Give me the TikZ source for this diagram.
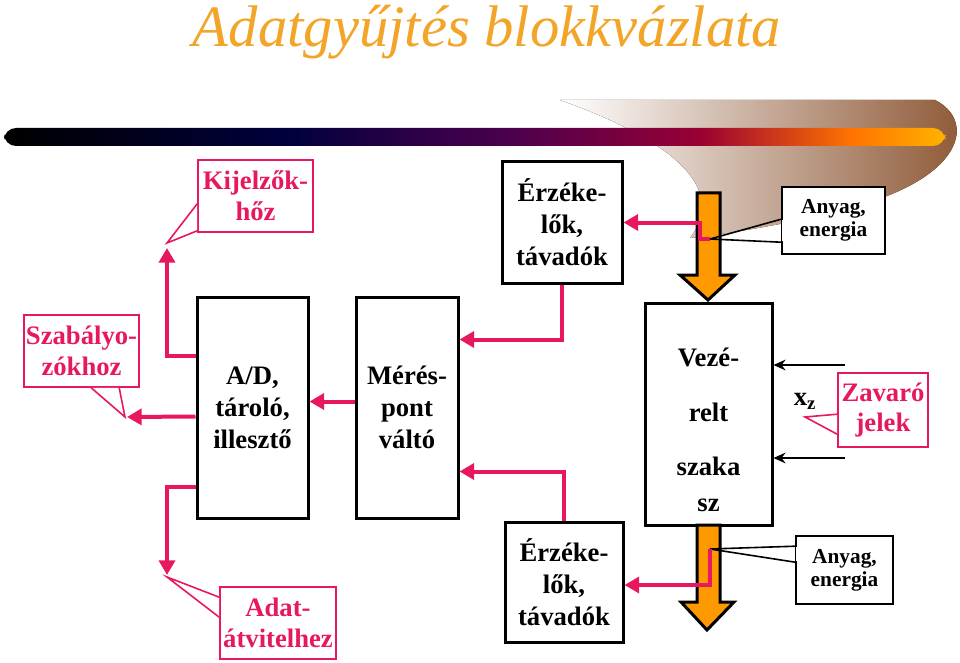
\documentclass[tikz,border=0pt]{standalone}
\usepackage{fontspec}
\setmainfont{Liberation Serif}
\usetikzlibrary{calc,arrows.meta}
\definecolor{pinkred}{RGB}{232,24,96}
\definecolor{flow}{RGB}{255,153,0}
\definecolor{titleor}{RGB}{242,165,40}
\definecolor{swoosh}{RGB}{140,85,50}
\pgfdeclarehorizontalshading{barshade}{100bp}{color(0bp)=(black); color(25bp)=(black); color(40bp)=(black!60!blue!60!black); color(52bp)=(violet!60!black); color(62bp)=(purple!80!black); color(70bp)=(orange!90!red); color(75bp)=(orange!60!yellow); color(100bp)=(orange!60!yellow)}
\tikzset{
  blk/.style={draw,line width=2.25pt,fill=white,align=center,inner sep=0pt,font=\fontsize{20}{24}\selectfont\bfseries},
  pcall/.style={draw=pinkred,line width=1.2pt,fill=white,align=center,inner sep=0pt,text=pinkred,font=\fontsize{20}{23}\selectfont\bfseries},
  bcall/.style={draw,line width=1.2pt,fill=white,align=center,inner sep=0pt,font=\fontsize{16}{17}\selectfont\bfseries},
  sig/.style={draw=pinkred,line width=3pt,-{Triangle[length=11pt,width=12pt]}},
  dist/.style={draw,line width=1.2pt,-{Stealth[length=9pt,width=8pt]}},
  mflow/.style={fill=flow,draw,line width=2.25pt,line join=miter}
}
\begin{document}
\begin{tikzpicture}[x=0.75pt,y=-0.75pt]
\useasboundingbox (0,0) rectangle (960,663);
% title and bar
\fill[left color=white,right color=swoosh] (560,100) -- (935,100) .. controls (975,120) and (965,175) .. (860,205) .. controls (800,222) and (740,232) .. (690,238) .. controls (720,200) and (700,150) .. (560,100);
\node[text=titleor,font=\fontsize{44}{50}\selectfont\itshape] (title) at (487,32) {Adatgyűjtés blokkvázlata};
\shade[shading=barshade,rounded corners=9pt] (4,128) rectangle (945,146);
% blocks
\node[blk,minimum width=83.25pt,minimum height=165.75pt] (ad) at (252.5,407.5) {A/D,\\tároló,\\illesztő};
\node[blk,minimum width=76.5pt,minimum height=165.75pt] (mer) at (407,407.5) {Mérés-\\pont\\váltó};
\node[blk,minimum width=90pt,minimum height=90.75pt] (erzt) at (562,222.5) {Érzéke-\\lők,\\távadók};
\node[blk,minimum width=95.25pt,minimum height=166.5pt] (vez) at (708.5,414) {};
\node[font=\fontsize{20}{24}\selectfont\bfseries,align=center] (veztxt) at (708.5,430) {Vezé-\\[17pt]relt\\[17pt]szaka\\[3pt]sz};
\node[blk,minimum width=88.5pt,minimum height=90pt] (erzb) at (564,582) {Érzéke-\\lők,\\távadók};
% material flow
\draw[mflow] (697,193) -- (720,193) -- (720,275) -- (735,275) -- (708,300) -- (680,275) -- (697,275) -- cycle;
\draw[mflow] (697,525) -- (720,525) -- (720,602) -- (734,602) -- (707,630) -- (681,602) -- (697,602) -- cycle;
% callouts
\node[pcall,minimum width=86.25pt,minimum height=54pt] (kij) at (255.5,196) {Kijelzők-\\hőz};
\node[pcall,minimum width=86.25pt,minimum height=54pt] (szab) at (81.5,351) {Szabályo-\\zókhoz};
\node[pcall,minimum width=87pt,minimum height=54pt] (adat) at (278,623) {Adat-\\átvitelhez};
\node[pcall,minimum width=67.5pt,minimum height=55.5pt] (zav) at (883,410) {Zavaró\\jelek};
\node[bcall,minimum width=77.25pt,minimum height=50.25pt] (anyt) at (833.5,220.5) {Anyag,\\energia};
\node[bcall,minimum width=72.75pt,minimum height=51pt] (anyb) at (844.5,570) {Anyag,\\energia};
\coordinate (kijtip) at (167,243);
\coordinate (szabtip) at (125,417);
\coordinate (adattip) at (167,577);
\coordinate (zavtip) at (805,417);
\coordinate (anyttip) at (710,239);
\coordinate (anybtip) at (710,549);
\fill[white] ($(kij.south west)+(0,-2)$) -- (kijtip) -- ($(kij.south west)+(0,-29)$) -- cycle;
\draw[pinkred,line width=1.2pt] ($(kij.south west)+(0,-2)$) -- (kijtip) -- ($(kij.south west)+(0,-29)$);
\fill[white] ($(szab.south west)+(68,0)$) -- (szabtip) -- ($(szab.south west)+(96,0)$) -- cycle;
\draw[pinkred,line width=1.2pt] ($(szab.south west)+(68,0)$) -- (szabtip) -- ($(szab.south west)+(96,0)$);
\fill[white] ($(adat.north west)+(0,11)$) -- (adattip) -- ($(adat.north west)+(0,31)$) -- cycle;
\draw[pinkred,line width=1.2pt] ($(adat.north west)+(0,11)$) -- (adattip) -- ($(adat.north west)+(0,31)$);
\fill[white] ($(zav.north west)+(0,42)$) -- (zavtip) -- ($(zav.north west)+(0,62)$) -- cycle;
\draw[pinkred,line width=1.2pt] ($(zav.north west)+(0,42)$) -- (zavtip) -- ($(zav.north west)+(0,62)$);
\draw[line width=1.2pt] ($(anyt.north west)+(0,33)$) -- (anyttip) -- ($(anyt.north west)+(0,56)$);
\fill[white] ($(anyt.north west)+(0.8,34)$) rectangle ($(anyt.north west)+(2,55)$);
\draw[line width=1.2pt] ($(anyb.north west)+(0,11)$) -- (anybtip) -- ($(anyb.north west)+(0,27)$);
\fill[white] ($(anyb.north west)+(0.8,12)$) rectangle ($(anyb.north west)+(2,26)$);
% signals
\draw[sig] ($(ad.north west)+(0,60)$) -| ($(kijtip)+(0,5)$);
\draw[sig] ($(ad.north west)+(0,121)$) -- ($(szabtip)+(2,0)$);
\draw[sig] ($(mer.north west)+(0,106)$) -- ($(ad.north east)+(0,106)$);
\draw[sig] ($(ad.north west)+(0,191)$) -| ($(adattip)+(0,-2)$);
\draw[sig] (erzt.south) |- ($(mer.north east)+(0,44)$);
\draw[sig] (erzb.north) |- ($(mer.north east)+(0,176)$);
\draw[sig] (anyttip) -- (700,239) |- (erzt.east);
\draw[sig] (anybtip) -- (710,585) -- ($(erzb.east)+(0,3)$);
% disturbances
\coordinate (zin1) at (845,365);
\coordinate (zin2) at (845,458);
\draw[dist] (zin1) -- (vez.east |- zin1);
\draw[dist] (zin2) -- (vez.east |- zin2);
\node[font=\fontsize{20}{24}\selectfont\bfseries] (xz) at (805,401) {x\textsubscript{z}};
\end{tikzpicture}
\end{document}
